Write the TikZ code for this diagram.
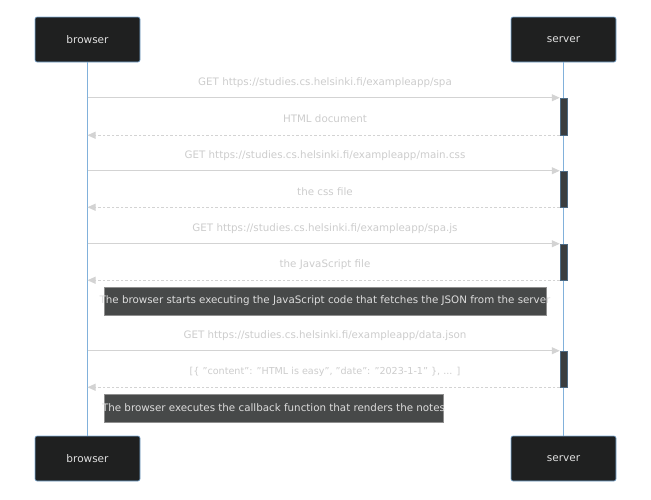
\documentclass[tikz,border=0pt]{standalone}
\usepackage{fontspec}
\setmainfont{DejaVu Sans}
\usetikzlibrary{arrows.meta}
\newcommand\qmk{\symbol{34}}
\definecolor{actorfill}{HTML}{1F2020}
\definecolor{actorline}{HTML}{81B1DB}
\definecolor{msgline}{HTML}{D3D3D3}
\definecolor{msgtext}{HTML}{CCCCCC}
\definecolor{notefill}{HTML}{474949}
\definecolor{notetext}{HTML}{DDDDDD}
\definecolor{actfill}{HTML}{3A3D3F}
\tikzset{
  actor/.style={draw=actorline, line width=0.6pt, fill=actorfill, rounded corners=2pt,
    minimum width=105pt, minimum height=45pt, text=white!88!black, font=\fontsize{10.5}{13}\selectfont, inner sep=0pt},
  lifeline/.style={draw=actorline, line width=0.7pt},
  msg/.style={draw=msgline, line width=0.9pt, -{Triangle[length=8pt,width=7pt]}},
  reply/.style={draw=msgline, line width=0.9pt, dash pattern=on 2.5pt off 2pt, -{Triangle[length=8pt,width=7pt]}},
  msglabel/.style={text=msgtext, font=\fontsize{10.3}{12}\selectfont, inner sep=0pt},
  note/.style={draw=msgtext!70!black, line width=0.4pt, fill=notefill, text=notetext,
    font=\fontsize{10.3}{12}\selectfont, minimum height=28pt, inner sep=0pt},
  activation/.style={draw=actorline!60!black, line width=0.5pt, fill=actfill, minimum width=7pt, inner sep=0pt},
}
\begin{document}
\begin{tikzpicture}[x=1pt,y=-1pt]
\useasboundingbox (0,0) rectangle (651,499);
% actors
\node[actor] (bt) at (87.5,39.5) {browser};
\node[actor] (st) at (563.5,39.5) {server};
\node[actor] (bb) at (87.5,458.5) {browser};
\node[actor] (sb) at (563.5,458.5) {server};
% lifelines
\draw[lifeline] (bt.south) -- (bb.north);
\draw[lifeline] (st.south) -- (sb.north);
% activations
\node[activation, minimum height=37pt] (a1) at (563.5,116.5) {};
\node[activation, minimum height=36pt] (a2) at (563.5,189) {};
\node[activation, minimum height=36pt] (a3) at (563.5,262) {};
\node[activation, minimum height=36pt] (a4) at (563.5,369) {};
% coordinates on browser lifeline
\coordinate (b1) at (bt.south |- a1.north);
\coordinate (b2) at (bt.south |- a1.south);
\coordinate (b3) at (bt.south |- a2.north);
\coordinate (b4) at (bt.south |- a2.south);
\coordinate (b5) at (bt.south |- a3.north);
\coordinate (b6) at (bt.south |- a3.south);
\coordinate (b7) at (bt.south |- a4.north);
\coordinate (b8) at (bt.south |- a4.south);
% messages
\draw[msg] (b1) -- (a1.north west);
\node[msglabel] (l1) at (325,83) {GET https://studies.cs.helsinki.fi/exampleapp/spa};
\draw[reply] (a1.south west) -- (b2);
\node[msglabel] (l2) at (325,119) {HTML document};
\draw[msg] (b3) -- (a2.north west);
\node[msglabel] (l3) at (325,156) {GET https://studies.cs.helsinki.fi/exampleapp/main.css};
\draw[reply] (a2.south west) -- (b4);
\node[msglabel] (l4) at (325,192) {the css file};
\draw[msg] (b5) -- (a3.north west);
\node[msglabel] (l5) at (325,229) {GET https://studies.cs.helsinki.fi/exampleapp/spa.js};
\draw[reply] (a3.south west) -- (b6);
\node[msglabel] (l6) at (325,265) {the JavaScript file};
\node[note, minimum width=442pt] (n1) at (325,301) {\makebox[0pt]{The browser starts executing the JavaScript code that fetches the JSON from the server}};
\draw[msg] (b7) -- (a4.north west);
\node[msglabel] (l7) at (325,336) {GET https://studies.cs.helsinki.fi/exampleapp/data.json};
\draw[reply] (a4.south west) -- (b8);
\node[msglabel, font=\fontsize{9.6}{12}\selectfont] (l8) at (325,372) {[\{ \qmk content\qmk: \qmk HTML is easy\qmk, \qmk date\qmk: \qmk 2023-1-1\qmk\ \}, ... ]};
\node[note, minimum width=339pt] (n2) at (273.5,408) {\makebox[0pt]{The browser executes the callback function that renders the notes}};
\end{tikzpicture}
\end{document}
